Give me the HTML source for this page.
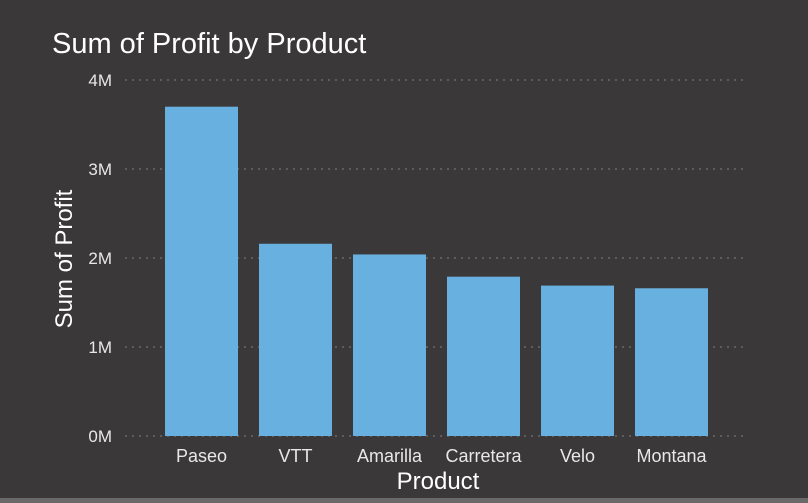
<!DOCTYPE html>
<html><head><meta charset="utf-8">
<style>
html,body{margin:0;padding:0;background:#3a3838;width:808px;height:503px;overflow:hidden;font-family:"Liberation Sans",Arial,sans-serif;}
</style></head>
<body>
<svg width="808" height="503">
<rect x="0" y="0" width="808" height="503" fill="#3a3838"/>
<rect x="0" y="498" width="808" height="5" fill="#6a6a6a"/>
<text x="52" y="53" font-size="29" fill="#ffffff">Sum of Profit by Product</text>
<g id="grid"></g>
<g id="bars"></g>
<g id="xlabels"></g>
<text x="0" y="0" transform="translate(72,259) rotate(-90)" text-anchor="middle" font-size="24" fill="#ffffff">Sum of Profit</text>
<text x="438" y="489" text-anchor="middle" font-size="24" fill="#ffffff">Product</text>
</svg>
<script>
const categories=["Paseo","VTT","Amarilla","Carretera","Velo","Montana"];
const profits=[3.7,2.16,2.04,1.79,1.69,1.66];
const ticks=[0,1,2,3,4];
const tickLabels=["0M","1M","2M","3M","4M"];
const NS="http://www.w3.org/2000/svg";
const y0=436,pxPerM=89,bandStart=154.5,band=94,barW=73;
const y=v=>y0-v*pxPerM;
const x=i=>bandStart+i*band+(band-barW)/2;
const grid=document.getElementById('grid');
ticks.forEach((t,i)=>{
 const l=document.createElementNS(NS,'line');
 l.setAttribute('x1',125);l.setAttribute('x2',748);l.setAttribute('y1',y(t));l.setAttribute('y2',y(t));
 l.setAttribute('stroke','#6a6868');l.setAttribute('stroke-width','1.5');l.setAttribute('stroke-dasharray','2,5');
 
 
 grid.appendChild(l);
 const tx=document.createElementNS(NS,'text');
 tx.setAttribute('x',112);tx.setAttribute('y',y(t)+6);tx.setAttribute('text-anchor','end');
 tx.setAttribute('font-size','17');tx.setAttribute('fill','#e8e8e8');
 tx.textContent=tickLabels[i];
 
 
 grid.appendChild(tx);
});
const bars=document.getElementById('bars'),xl=document.getElementById('xlabels');
categories.forEach((c,i)=>{
 const r=document.createElementNS(NS,'rect');
 r.setAttribute('x',x(i));r.setAttribute('y',y(profits[i]));r.setAttribute('width',barW);r.setAttribute('height',y0-y(profits[i]));
 r.setAttribute('fill','#68b0e0');
 
 
 bars.appendChild(r);
 const t=document.createElementNS(NS,'text');
 t.setAttribute('x',x(i)+barW/2);t.setAttribute('y',462);t.setAttribute('text-anchor','middle');
 t.setAttribute('font-size','18');t.setAttribute('fill','#e8e8e8');
 t.textContent=c;
 
 
 xl.appendChild(t);
});
</script>
</body></html>
